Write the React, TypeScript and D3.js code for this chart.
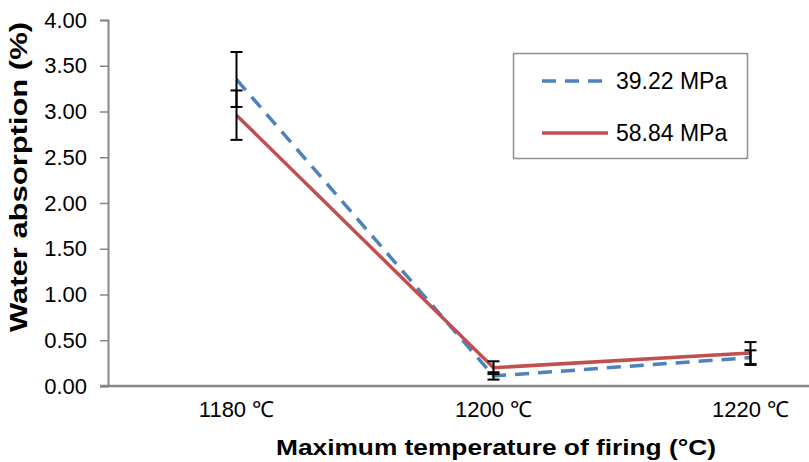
import React, { useEffect, useRef } from "react";
import * as d3 from "d3";

// ---------------------- data
const temps = ["1180 ℃", "1200 ℃", "1220 ℃"];
const series = ["39.22 MPa", "58.84 MPa"];
const absorption3922 = [3.35, 0.11, 0.31];
const error3922 = [0.3, 0.04, 0.08];
const absorption5884 = [2.96, 0.2, 0.36];
const error5884 = [0.27, 0.07, 0.12];
const yTicks = [0, 0.5, 1, 1.5, 2, 2.5, 3, 3.5, 4];

const colors = ["#4F81BD", "#C0504D"];
const dashes = ["14,9", null];

const App = () => {
   const svgRef = useRef(null);
   const width = 809;
   const height = 462;

   useEffect(() => {
      const margin = { top: 20, bottom: 76, left: 108 };
      const svg = d3.select(svgRef.current);
      svg.selectAll("*").remove();

      // ---------------------- scale
      const x = d3
         .scaleBand()
         .domain(temps)
         .range([margin.left, margin.left + 257 * temps.length]);
      const y = d3
         .scaleLinear()
         .domain([0, 4])
         .range([height - margin.bottom, margin.top]);
      const cx = d => x(d) + x.bandwidth() / 2;

      const font = "'Liberation Sans', Arial, sans-serif";

      // ---------------------- y axis
      const yAxis = svg
         .append("g")
         .attr("transform", `translate(${margin.left}, 0)`)
         .call(
            d3
               .axisLeft(y)
               .tickValues(yTicks)
               .tickFormat(d3.format(".2f"))
               .tickSize(8)
               .tickPadding(13)
         );
      yAxis.select(".domain").attr("stroke", "#868686").attr("stroke-width", 2);
      yAxis.selectAll(".tick line").attr("stroke", "#868686").attr("stroke-width", 1.5);
      yAxis
         .selectAll(".tick text")
         .attr("font-family", font)
         .attr("font-size", 22)
         .attr("fill", "#000");

      // ---------------------- x axis
      const xAxis = svg
         .append("g")
         .attr("transform", `translate(0, ${y(0)})`)
         .call(d3.axisBottom(x).tickSize(0).tickPadding(31));
      xAxis
         .select(".domain")
         .attr("stroke", "#868686")
         .attr("stroke-width", 2.5)
         .attr("d", `M${margin.left - 8},0H${margin.left + 257 * temps.length}`);
      xAxis
         .selectAll(".tick text")
         .attr("font-family", font)
         .attr("font-size", 22)
         .attr("fill", "#000")
         .attr("dy", "0");

      // ---------------------- titles
      svg.append("text")
         .attr("x", 496)
         .attr("y", 455)
         .attr("text-anchor", "middle")
         .attr("font-family", font)
         .attr("font-weight", "bold")
         .attr("font-size", 22)
         .attr("textLength", 440)
         .attr("lengthAdjust", "spacingAndGlyphs")
         .text("Maximum temperature of firing (°C)");

      svg.append("text")
         .attr("transform", "translate(27, 177) rotate(-90)")
         .attr("text-anchor", "middle")
         .attr("font-family", font)
         .attr("font-weight", "bold")
         .attr("font-size", 23)
         .attr("textLength", 310)
         .attr("lengthAdjust", "spacingAndGlyphs")
         .text("Water absorption (%)");

      // ---------------------- lines
      const data = [absorption3922, absorption5884];
      const errors = [error3922, error5884];
      const line = d3
         .line()
         .x((d, i) => cx(temps[i]))
         .y(d => y(d));

      data.forEach((vals, s) => {
         svg.append("path")
            .attr("d", line(vals))
            .attr("fill", "none")
            .attr("stroke", colors[s])
            .attr("stroke-width", 3.5)
            .attr("stroke-dasharray", dashes[s]);
      });

      // ---------------------- error bars
      data.forEach((vals, s) => {
         const g = svg.append("g").attr("stroke", "#000").attr("stroke-width", 2);
         vals.forEach((v, i) => {
            const e = errors[s][i];
            const px = cx(temps[i]);
            g.append("line")
               .attr("x1", px).attr("x2", px)
               .attr("y1", y(v + e)).attr("y2", y(v - e));
            [v + e, v - e].forEach(t => {
               g.append("line")
                  .attr("x1", px - 6).attr("x2", px + 6)
                  .attr("y1", y(t)).attr("y2", y(t));
            });
         });
      });

      // ---------------------- legend
      const legend = svg.append("g");
      legend.append("rect")
         .attr("x", 513.5)
         .attr("y", 53.5)
         .attr("width", 234)
         .attr("height", 105)
         .attr("fill", "#fff")
         .attr("stroke", "#222")
         .attr("stroke-width", 1.5)
         .attr("stroke-dasharray", "1,1");
      series.forEach((name, s) => {
         const ly = 81 + s * 52;
         legend.append("line")
            .attr("x1", 542).attr("x2", 608)
            .attr("y1", ly).attr("y2", ly)
            .attr("stroke", colors[s])
            .attr("stroke-width", 3.5)
            .attr("stroke-dasharray", dashes[s]);
         legend.append("text")
            .attr("x", 616)
            .attr("y", ly)
            .attr("dy", "0.35em")
            .attr("font-family", font)
            .attr("font-size", 23)
            .text(name);
      });
   }, []);

   return (
      <div style={{ position: "fixed", left: 0, top: 0 }}>
         <svg ref={svgRef} width={width} height={height} style={{ display: "block", background: "#fff" }} />
      </div>
   );
};

export default App;
